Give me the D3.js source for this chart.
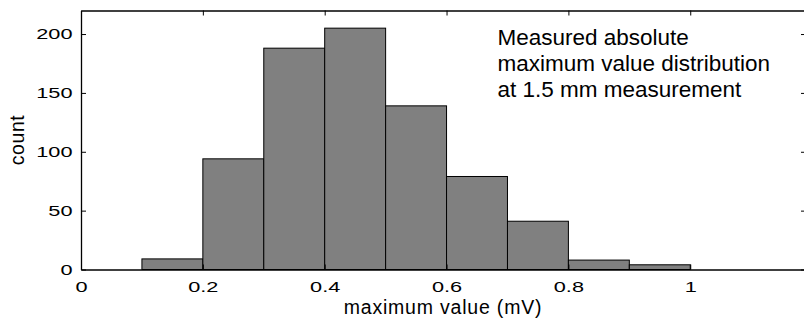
<!DOCTYPE html>
<html>
<head>
<meta charset="utf-8">
<script src="https://cdn.jsdelivr.net/npm/d3@7"></script>
<style>
    body { margin: 0; background: #fff; }
    svg { display: block; font-family: "Liberation Sans", Arial, Helvetica, sans-serif; }
</style>
</head>
<body>
<div id="chart"></div>
<script>
// histogram bins (mV) and counts
const binStarts = [0.1, 0.2, 0.3, 0.4, 0.5, 0.6, 0.7, 0.8, 0.9];
const binWidth = 0.1;
const counts = [9, 94, 188, 205, 139, 79, 41, 8, 4];
const xTicks = [0, 0.2, 0.4, 0.6, 0.8, 1];
const yTicks = [0, 50, 100, 150, 200];
const noteLines = ["Measured absolute", "maximum value distribution", "at 1.5 mm measurement"];

const W = 804, H = 323;
const margin = { top: 10.5, right: -2, bottom: 53.5, left: 81 };
const width = W - margin.left - margin.right;
const height = H - margin.top - margin.bottom;
const stretch = 1.45; // tick labels look horizontally stretched

const x = d3.scaleLinear().domain([0, 1.19]).range([0, width]);
const y = d3.scaleLinear().domain([0, 220]).range([height, 0]);

const svg = d3.select("#chart").append("svg")
              .attr("width", W)
              .attr("height", H);
const g = svg.append("g")
             .attr("transform", `translate(${margin.left},${margin.top})`);

// bars
g.selectAll("rect.bar")
 .data(binStarts)
 .enter().append("rect")
 .attr("class", "bar")
 .attr("x", d => x(d))
 .attr("width", d => x(d + binWidth) - x(d))
 .attr("y", (d, i) => y(counts[i]))
 .attr("height", (d, i) => y(0) - y(counts[i]))
 .attr("fill", "#808080")
 .attr("stroke", "#000")
 .attr("stroke-width", 1);

// axes, ticks inward, box around the plot
const fmt = d => d === 0 ? "0" : (d === 1 ? "1" : String(d));
const styleAxis = sel => {
    sel.select(".domain").attr("stroke", "#000").attr("stroke-width", 1.3);
    sel.selectAll(".tick line").attr("stroke", "#000").attr("stroke-width", 1);
};

const xAxis = g.append("g")
               .attr("transform", `translate(0,${height})`)
               .call(d3.axisBottom(x).tickValues(xTicks).tickFormat(fmt)
                       .tickSizeInner(-5).tickSizeOuter(0).tickPadding(12));
styleAxis(xAxis);
xAxis.selectAll(".tick text")
     .attr("font-size", 15)
     .attr("fill", "#000")
     .attr("transform", `scale(${stretch},1)`);

const xTop = g.append("g")
              .call(d3.axisTop(x).tickValues(xTicks).tickFormat("")
                      .tickSizeInner(-5).tickSizeOuter(0));
styleAxis(xTop);

const yAxis = g.append("g")
               .call(d3.axisLeft(y).tickValues(yTicks)
                       .tickSizeInner(-5).tickSizeOuter(0));
styleAxis(yAxis);
yAxis.selectAll(".tick text")
     .attr("font-size", 15)
     .attr("fill", "#000")
     .attr("x", -8.5 / stretch)
     .attr("transform", `scale(${stretch},1)`);

const yRight = g.append("g")
                .attr("transform", `translate(${width},0)`)
                .call(d3.axisRight(y).tickValues(yTicks).tickFormat("")
                        .tickSizeInner(-5).tickSizeOuter(0));
styleAxis(yRight);

// axis labels
svg.append("text")
   .attr("x", 443)
   .attr("y", 313.5)
   .attr("text-anchor", "middle")
   .attr("font-size", 19.5)
   .attr("letter-spacing", 0.8)
   .text("maximum value (mV)");

svg.append("text")
   .attr("transform", "translate(23.5,140) rotate(-90)")
   .attr("text-anchor", "middle")
   .attr("font-size", 19.5)
   .attr("letter-spacing", 0.6)
   .text("count");

// annotation
const note = svg.append("text")
                .attr("x", 497.5)
                .attr("y", 45)
                .attr("font-size", 22.5);
note.selectAll("tspan")
    .data(noteLines)
    .enter().append("tspan")
    .attr("x", 497.5)
    .attr("dy", (d, i) => i === 0 ? 0 : 25.8)
    .text(d => d);
</script>
</body>
</html>
